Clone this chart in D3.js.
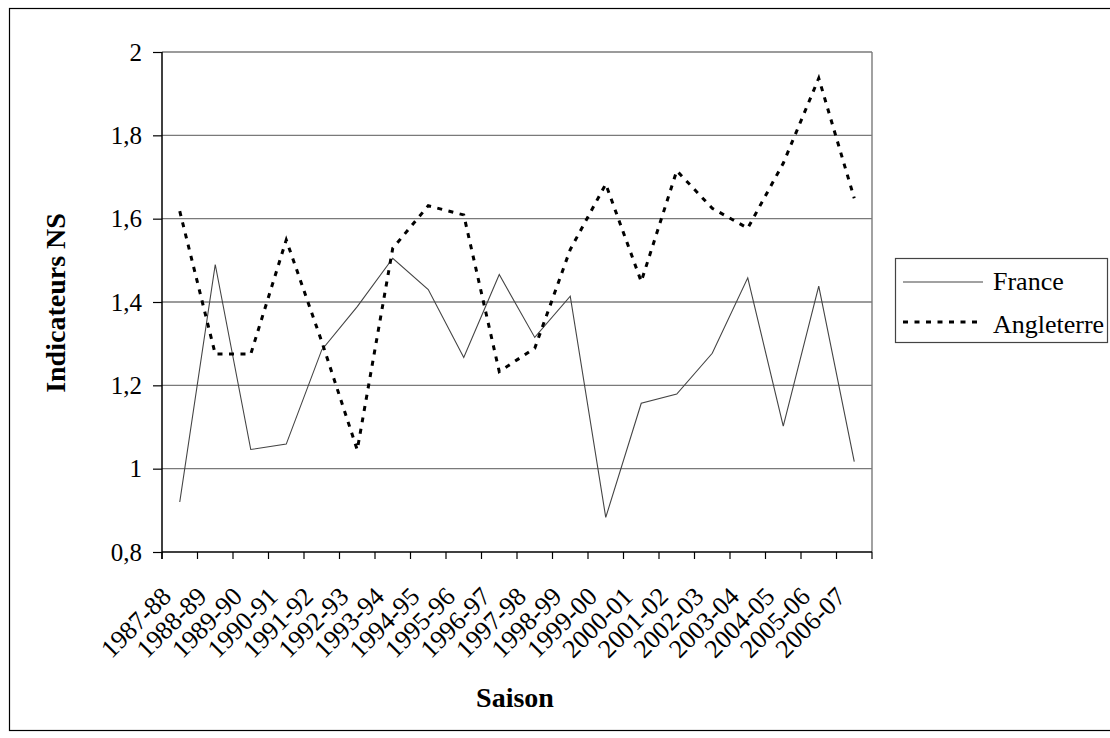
<!DOCTYPE html>
<html>
<head>
<meta charset="utf-8">
<script src="https://cdn.jsdelivr.net/npm/d3@7"></script>
<style>
  html, body { margin: 0; padding: 0; background: #fff; }
  svg { display: block; }
  text { font-family: "Liberation Serif", "Times New Roman", serif; fill: #000; }
</style>
</head>
<body>
<svg id="chart" width="1110" height="738"></svg>
<script>
const seasons = ["1987-88","1988-89","1989-90","1990-91","1991-92","1992-93","1993-94","1994-95","1995-96","1996-97","1997-98","1998-99","1999-00","2000-01","2001-02","2002-03","2003-04","2004-05","2005-06","2006-07"];
const france = [0.92,1.49,1.046,1.059,1.285,1.389,1.505,1.43,1.267,1.466,1.315,1.414,0.883,1.157,1.179,1.277,1.458,1.102,1.438,1.017];
const angleterre = [1.618,1.275,1.275,1.549,1.305,1.045,1.529,1.631,1.609,1.233,1.289,1.526,1.683,1.449,1.715,1.625,1.577,1.733,1.937,1.649];
const yTicks = [0.8,1,1.2,1.4,1.6,1.8,2];
const seriesNames = ["France","Angleterre"];

const FONT = '"Liberation Serif", "Times New Roman", serif';
const svg = d3.select("#chart");
const L = 162, R = 872, T = 52, B = 552;

// outer chart border
svg.append("rect").attr("x", 9.5).attr("y", 8.5).attr("width", 1130).attr("height", 722)
  .attr("fill", "none").attr("stroke", "#000").attr("stroke-width", 1.2);

const x = d3.scaleBand().domain(seasons).range([L, R]).padding(0);
const y = d3.scaleLinear().domain([0.8, 2]).range([B, T]);
const cx = d => x(d) + x.bandwidth() / 2;

// gridlines
svg.append("g").selectAll("line").data(yTicks.filter(v => v > 0.8)).join("line")
  .attr("x1", L).attr("x2", R).attr("y1", d => y(d)).attr("y2", d => y(d))
  .attr("stroke", "#7a7a7a").attr("stroke-width", 1.4);
// plot area right border
svg.append("line").attr("x1", R).attr("x2", R).attr("y1", T).attr("y2", B)
  .attr("stroke", "#7a7a7a").attr("stroke-width", 1.4);

// y axis
const fmt = d => String(d).replace(".", ",");
const yAxis = svg.append("g").attr("transform", `translate(${L},0)`)
  .call(d3.axisLeft(y).tickValues(yTicks).tickSize(9).tickPadding(11).tickFormat(fmt))
  .attr("font-family", FONT);
yAxis.select(".domain").attr("stroke", "#000").attr("stroke-width", 1.5).attr("d", `M0,${T}V${B + 7}`);
yAxis.selectAll(".tick line").attr("stroke", "#000").attr("stroke-width", 1.2);
yAxis.selectAll(".tick text").style("font-family", FONT)
  .style("font-size", "25px").attr("fill", "#000");

// x axis
const xAxis = svg.append("g").attr("transform", `translate(0,${B})`)
  .call(d3.axisBottom(x).tickSize(0).tickFormat(""));
xAxis.select(".domain").attr("stroke", "#000").attr("stroke-width", 1.5).attr("d", `M${L},0H${R}`);
const boundaries = seasons.map(s => x(s)).concat([x(seasons[seasons.length - 1]) + x.bandwidth()]);
svg.append("g").selectAll("line").data(boundaries).join("line")
  .attr("x1", d => d).attr("x2", d => d).attr("y1", B).attr("y2", B + 7)
  .attr("stroke", "#000").attr("stroke-width", 1.2);
svg.append("g").selectAll("text").data(seasons).join("text")
  .attr("transform", d => `translate(${cx(d) - 7},${B + 46}) rotate(-45)`)
  .attr("text-anchor", "end").style("font-family", FONT).style("font-size", "26px").text(d => d);

// lines
const line = d3.line().x((d, i) => cx(seasons[i])).y(d => y(d));
svg.append("path").datum(france).attr("d", line)
  .attr("fill", "none").attr("stroke", "#444").attr("stroke-width", 1.1);
svg.append("path").datum(angleterre).attr("d", line)
  .attr("fill", "none").attr("stroke", "#000").attr("stroke-width", 3)
  .attr("stroke-dasharray", "5,6.5");

// axis titles
svg.append("text").attr("transform", `translate(65,303) rotate(-90)`)
  .attr("text-anchor", "middle").style("font-family", FONT).style("font-size", "28px").style("font-weight", "bold")
  .text("Indicateurs NS");
svg.append("text").attr("x", 515).attr("y", 707)
  .attr("text-anchor", "middle").style("font-family", FONT).style("font-size", "28px").style("font-weight", "bold")
  .text("Saison");

// legend
const lg = svg.append("g");
lg.append("rect").attr("x", 895.5).attr("y", 258.5).attr("width", 212).attr("height", 84)
  .attr("fill", "#fff").attr("stroke", "#444").attr("stroke-width", 1.2);
const legY = [282, 322];
const legBase = [290, 333];
lg.append("line").attr("x1", 903).attr("x2", 983).attr("y1", legY[0]).attr("y2", legY[0])
  .attr("stroke", "#444").attr("stroke-width", 1.1);
lg.append("line").attr("x1", 903).attr("x2", 983).attr("y1", legY[1]).attr("y2", legY[1])
  .attr("stroke", "#000").attr("stroke-width", 3).attr("stroke-dasharray", "5,6.5");
lg.selectAll("text").data(seriesNames).join("text")
  .attr("x", 993).attr("y", (d, i) => legBase[i]).style("font-family", FONT).style("font-size", "26px").text(d => d);
</script>
</body>
</html>
